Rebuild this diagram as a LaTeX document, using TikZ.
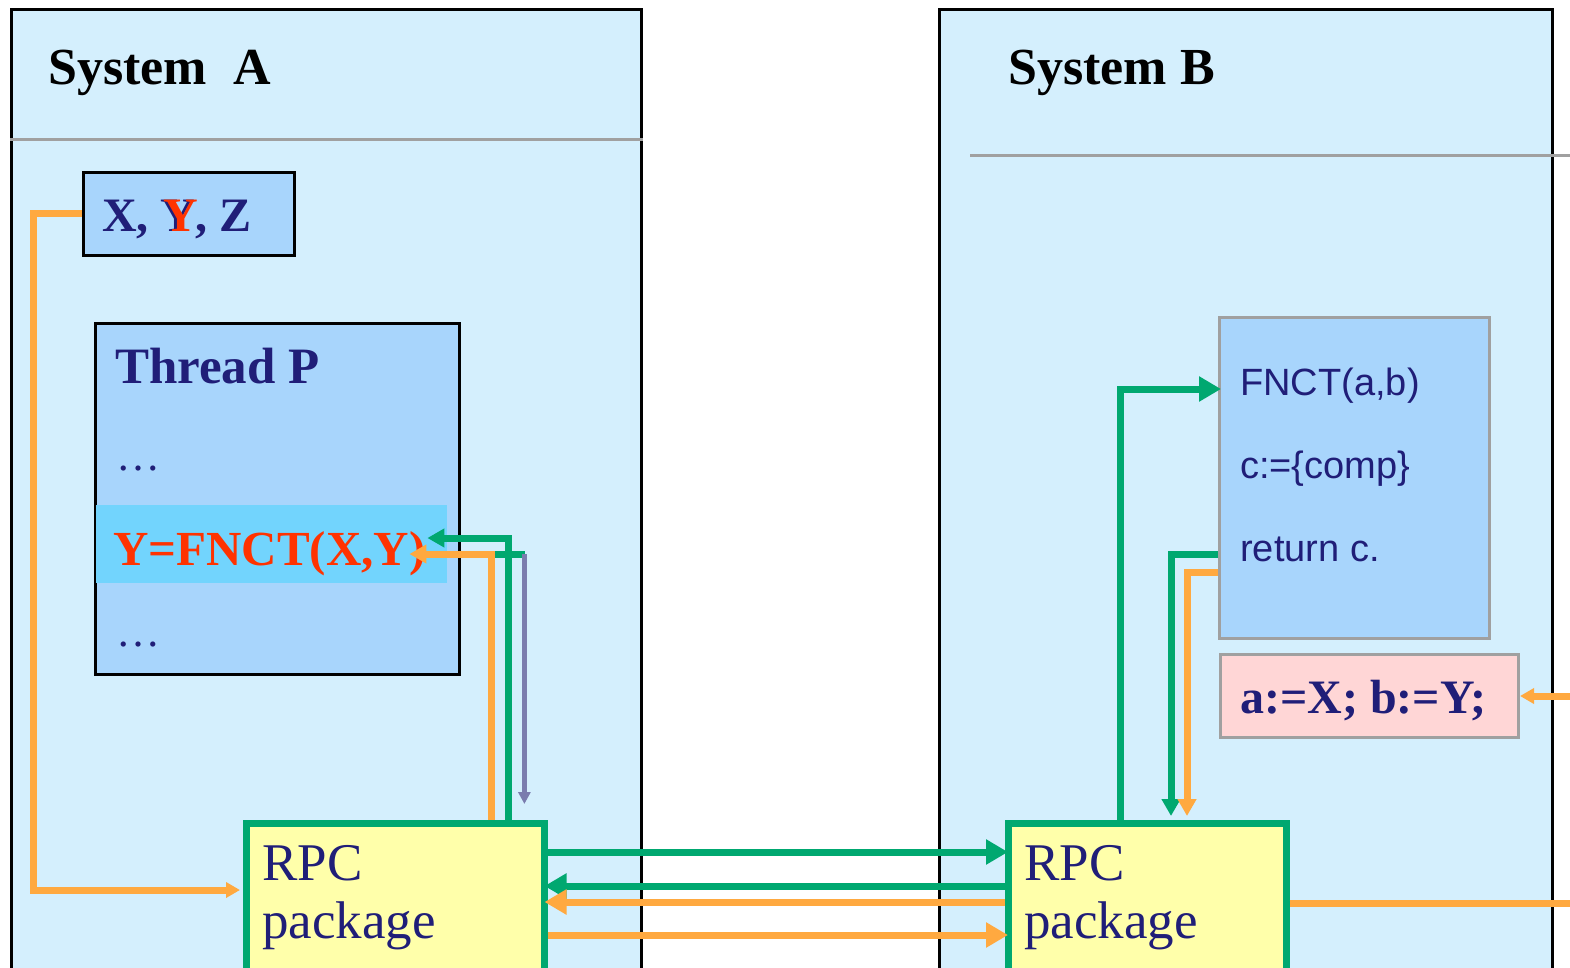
\documentclass[tikz,border=0pt]{standalone}
\usepackage{fontspec}
\setmainfont{Liberation Serif}
\newfontfamily\arialfont{Liberation Sans}
\usetikzlibrary{arrows.meta,calc}

\definecolor{sysbg}{RGB}{212,239,253}
\definecolor{varbg}{RGB}{168,213,252}
\definecolor{callbg}{RGB}{114,212,253}
\definecolor{rpcbg}{RGB}{255,255,170}
\definecolor{rpcgreen}{RGB}{0,168,112}
\definecolor{wireorange}{RGB}{255,169,64}
\definecolor{navy}{RGB}{32,30,120}
\definecolor{callred}{RGB}{255,51,0}
\definecolor{pinkbg}{RGB}{255,214,214}
\definecolor{sepgray}{RGB}{160,160,160}
\definecolor{localpurple}{RGB}{122,124,174}

\begin{document}
\begin{tikzpicture}[x=1pt,y=-1pt,
  sysbox/.style={draw=black, line width=3pt, fill=sysbg, anchor=north west, inner sep=0pt},
  varbox/.style={draw=black, line width=3pt, fill=varbg, anchor=north west, inner sep=0pt},
  codebox/.style={draw=sepgray, line width=3pt, fill=varbg, anchor=north west, inner sep=0pt},
  pinkbox/.style={draw=sepgray, line width=3pt, fill=pinkbg, anchor=north west, inner sep=0pt},
  rpcbox/.style={draw=rpcgreen, line width=6.5pt, fill=rpcbg, anchor=north west, inner sep=0pt},
  sepline/.style={draw=sepgray, line width=3pt},
  systitle/.style={anchor=base west, inner sep=0pt, font=\fontsize{52}{60}\selectfont\bfseries},
  boldtext/.style={anchor=base west, inner sep=0pt, text=navy, font=\fontsize{48}{58}\selectfont\bfseries},
  rpctext/.style={anchor=base west, inner sep=0pt, text=navy, font=\fontsize{53}{62}\selectfont},
  codetext/.style={anchor=base west, inner sep=0pt, text=navy, font=\fontsize{38}{44}\selectfont\arialfont},
  dotstext/.style={anchor=base west, inner sep=0pt, text=navy, font=\fontsize{44}{50}\selectfont},
  gline/.style={draw=rpcgreen, line width=7pt},
  oline/.style={draw=wireorange, line width=7pt},
  bigtip/.style={-{Triangle[length=22pt,width=24pt]}, shorten >=-3pt},
  midtip/.style={-{Triangle[length=17pt,width=18pt]}},
  smalltip/.style={-{Triangle[length=14pt,width=15pt]}}
]
\useasboundingbox (0,0) rectangle (1570,968);
\clip (0,0) rectangle (1570,968);

% the two systems
\node[sysbox, minimum width=630pt, minimum height=1000pt] (sysA) at (10,8) {};
\node[sysbox, minimum width=613pt, minimum height=1000pt] (sysB) at (938,8) {};
\draw[sepline] (sysA.west |- 0,140) -- (sysA.east |- 0,140);
\draw[sepline] (970,156) -- (1570,156);
\node[systitle] (titleA) at (48,85) {System\ \ A};
\node[systitle] (titleB) at (1008,85) {System B};

% system A contents
\node[varbox, minimum width=211pt, minimum height=83pt] (xyz) at (82,171) {};
\node[boldtext] (xyzlabel) at (102,232)
  {X, \makebox[0pt][l]{Y}\hspace{2.5pt}\textcolor{callred}{Y}\hspace{-2.5pt}, Z};

\node[varbox, minimum width=364pt, minimum height=351pt] (thread) at (94,322) {};
\node[boldtext, font=\fontsize{51}{60}\selectfont\bfseries] (threadlabel) at (115,383) {Thread P};
\node[dotstext] (dotsA) at (116,470) {\ldots};
\node[fill=callbg, anchor=north west, inner sep=0pt,
      minimum width=351pt, minimum height=78pt] (callrow) at (96,505) {};
\node[boldtext, text=callred, font=\fontsize{49}{58}\selectfont\bfseries] (call) at (113,565) {Y=FNCT(X,Y)};
\node[dotstext] (dotsB) at (116,646) {\ldots};

\node[rpcbox, minimum width=298pt, minimum height=200pt] (rpcA) at (243,820) {};
\node[rpctext] (rpcAname) at (262,880) {RPC};
\node[rpctext] (rpcApkg) at (262,938) {package};

% system B contents
\node[codebox, minimum width=270pt, minimum height=321pt] (fnct) at (1218,316) {};
\node[codetext] (fnctA) at (1240,395) {FNCT(a,b)};
\node[codetext] (fnctB) at (1240,478) {c:=\{comp\}};
\node[codetext] (fnctC) at (1240,561) {return c.};

\node[pinkbox, minimum width=298pt, minimum height=83pt] (assign) at (1219,653) {};
\node[boldtext, font=\fontsize{48}{56}\selectfont\bfseries] (assignlabel) at (1240,713) {a:=X; b:=Y;};

\node[rpcbox, minimum width=278pt, minimum height=200pt] (rpcB) at (1005,820) {};
\node[rpctext] (rpcBname) at (1024,880) {RPC};
\node[rpctext] (rpcBpkg) at (1024,938) {package};

% connectors in system A
\draw[oline, smalltip] (xyz.west) -- ++(-49,0) |- ($(rpcA.north west)+(-3,70)$);
\draw[gline] ($(callrow.north east)+(45,49)$) -- ++(33,0);
\draw[draw=localpurple, line width=5pt, -{Triangle[length=12pt,width=12pt]}]
  ($(callrow.north east)+(77,49)$) -- ++(0,250);
\draw[gline, midtip] ($(rpcA.north west)+(265,0)$) |- ($(callrow.north east)+(-20,33)$);
\draw[oline, midtip] ($(rpcA.north west)+(248,0)$) |- ($(callrow.north east)+(-38,49)$);

% messages between the RPC packages
\draw[gline, bigtip] ($(rpcA.north east)+(0,32)$) -- ($(rpcB.north west)+(0,32)$);
\draw[gline, bigtip] ($(rpcB.north west)+(0,66)$) -- ($(rpcA.north east)+(0,66)$);
\draw[oline, bigtip] ($(rpcB.north west)+(0,82)$) -- ($(rpcA.north east)+(0,82)$);
\draw[oline, bigtip] ($(rpcA.north east)+(0,115)$) -- ($(rpcB.north west)+(0,115)$);

% connectors in system B
\draw[gline, bigtip] ($(rpcB.north west)+(115,0)$) |- ($(fnct.north west)+(0,73)$);
\draw[gline, midtip] ($(fnct.north west)+(0,238)$) -| ($(rpcB.north west)+(166,-4)$);
\draw[oline, midtip] ($(fnct.north west)+(0,256)$) -| ($(rpcB.north west)+(182,-4)$);
\draw[oline, smalltip] ($(rpcB.north east)+(0,83)$) -- ++(284,0) |- (assign.east);
\end{tikzpicture}
\end{document}
